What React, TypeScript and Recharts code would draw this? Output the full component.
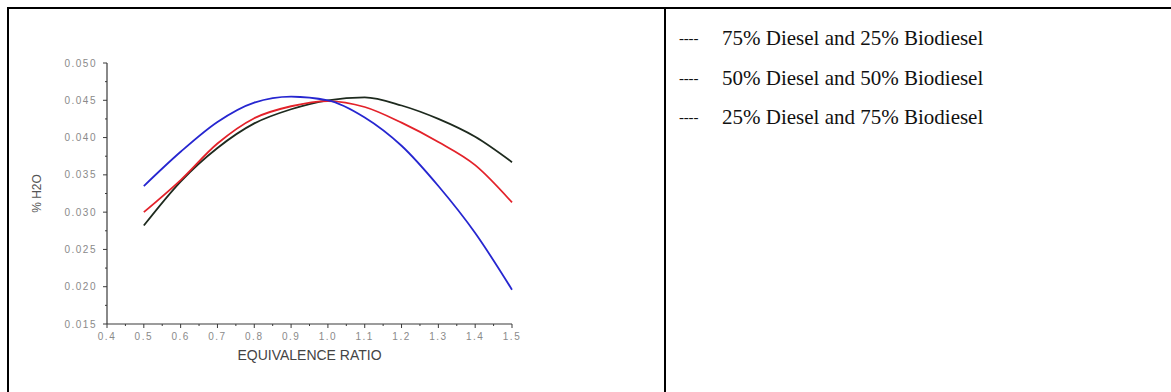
import * as React from "react"
import { Label, Line, LineChart, XAxis, YAxis } from "recharts"

// Equivalence ratio (x) and % H2O for each blend.
const equivalenceRatio = [0.5, 0.6, 0.7, 0.8, 0.9, 1.0, 1.1, 1.2, 1.3, 1.4, 1.5]
const diesel75 = [0.0282, 0.0341, 0.0386, 0.0419, 0.0438, 0.045, 0.0454, 0.0443, 0.0425, 0.0401, 0.0367]
const diesel50 = [0.03, 0.0343, 0.0392, 0.0426, 0.0442, 0.0449, 0.0441, 0.042, 0.0394, 0.0363, 0.0313]
const diesel25 = [0.0335, 0.0381, 0.0421, 0.0447, 0.0455, 0.045, 0.0427, 0.0389, 0.0335, 0.0272, 0.0196]

const legendLabels = [
  "75% Diesel and 25% Biodiesel",
  "50% Diesel and 50% Biodiesel",
  "25% Diesel and 75% Biodiesel",
]

const xMajorTicks = [0.4, 0.5, 0.6, 0.7, 0.8, 0.9, 1.0, 1.1, 1.2, 1.3, 1.4, 1.5]
const xMinorTicks = [0.45, 0.55, 0.65, 0.75, 0.85, 0.95, 1.05, 1.15, 1.25, 1.35, 1.45]
const yMajorTicks = [0.015, 0.02, 0.025, 0.03, 0.035, 0.04, 0.045, 0.05]
const yMinorTicks = [0.0175, 0.0225, 0.0275, 0.0325, 0.0375, 0.0425, 0.0475]

const chartData = equivalenceRatio.map((x, i) => ({
  x,
  d75: diesel75[i],
  d50: diesel50[i],
  d25: diesel25[i],
}))

const AXIS = "#3a3a3a"
const TICK_TEXT = "#8a8a8a"
const SANS = "'Liberation Sans', Arial, sans-serif"
const SERIF = "'Liberation Serif', 'Times New Roman', serif"

// tickSize/tickMargin = 0, so (x, y) chega exatamente na linha do eixo
const XTick = (props: any) => {
  const { x, y, payload } = props
  const major = xMajorTicks.includes(payload.value)
  return (
    <g>
      <line x1={x} x2={x} y1={y} y2={y + (major ? 4 : 2)} stroke={AXIS} strokeWidth={1} />
      {major && (
        <text x={x} y={y + 16} textAnchor="middle" fontFamily={SANS} fontSize={10} letterSpacing={1.5} fill={TICK_TEXT}>
          {payload.value.toFixed(1)}
        </text>
      )}
    </g>
  )
}

const YTick = (props: any) => {
  const { x, y, payload } = props
  const major = yMajorTicks.includes(payload.value)
  return (
    <g>
      <line x1={x} x2={x - (major ? 4 : 2)} y1={y} y2={y} stroke={AXIS} strokeWidth={1} />
      {major && (
        <text x={x - 10} y={y} dy="0.35em" textAnchor="end" fontFamily={SANS} fontSize={10} letterSpacing={1.5} fill={TICK_TEXT}>
          {payload.value.toFixed(3)}
        </text>
      )}
    </g>
  )
}

export default function App() {
  return (
    <div style={{ position: "absolute", left: 0, top: 0, width: 1171, height: 392, background: "#fff" }}>
      <div style={{ position: "absolute", left: 0, top: 0 }}>
        <LineChart width={560} height={392} data={chartData} margin={{ top: 63, right: 48, bottom: 28, left: 47 }}>
          <XAxis
            type="number"
            dataKey="x"
            domain={[0.4, 1.5]}
            ticks={[...xMajorTicks, ...xMinorTicks].sort((a, b) => a - b)}
            interval={0}
            tickSize={0}
            tickMargin={0}
            tick={<XTick />}
            axisLine={{ stroke: AXIS, strokeWidth: 1.2 }}
            height={40}
          >
            <Label
              value="EQUIVALENCE RATIO"
              position="insideBottom"
              offset={4}
              style={{ fontFamily: SANS, fontSize: 14, fill: "#444" }}
            />
          </XAxis>
          <YAxis
            type="number"
            domain={[0.015, 0.05]}
            ticks={[...yMajorTicks, ...yMinorTicks].sort((a, b) => a - b)}
            interval={0}
            tickSize={0}
            tickMargin={0}
            tick={<YTick />}
            axisLine={{ stroke: AXIS, strokeWidth: 1.2 }}
            width={60}
          >
            <Label
              content={(p: any) => {
                const vb = p.viewBox
                const cx = vb.x - 10
                const cy = vb.y + vb.height / 2
                return (
                  <text
                    transform={`translate(${cx},${cy}) rotate(-90)`}
                    textAnchor="middle"
                    dy="0.35em"
                    fontFamily={SANS}
                    fontSize={12}
                    fill="#555"
                  >
                    % H2O
                  </text>
                )
              }}
            />
          </YAxis>
          <Line type="monotone" dataKey="d75" stroke="#1e2a1e" strokeWidth={1.8} dot={false} isAnimationActive={false} />
          <Line type="monotone" dataKey="d50" stroke="#e3222a" strokeWidth={1.8} dot={false} isAnimationActive={false} />
          <Line type="monotone" dataKey="d25" stroke="#2626d0" strokeWidth={1.8} dot={false} isAnimationActive={false} />
        </LineChart>
      </div>

      {/* bordas da tabela e a "legenda" em texto, como no documento original */}
      <svg width={1171} height={392} style={{ position: "absolute", left: 0, top: 0, pointerEvents: "none" }}>
        <rect x={7} y={7} width={1164} height={2} fill="#000" />
        <rect x={7} y={7} width={2} height={385} fill="#000" />
        <rect x={664} y={7} width={2} height={385} fill="#000" />
        {legendLabels.map((label, i) => (
          <g key={label}>
            <text x={679} y={43 + i * 39.7} fontFamily={SERIF} fontSize={15} letterSpacing={-0.2} fill="#111">
              ----
            </text>
            <text x={722} y={45 + i * 39.7} fontFamily={SERIF} fontSize={21} fill="#111">
              {label}
            </text>
          </g>
        ))}
      </svg>
    </div>
  )
}
